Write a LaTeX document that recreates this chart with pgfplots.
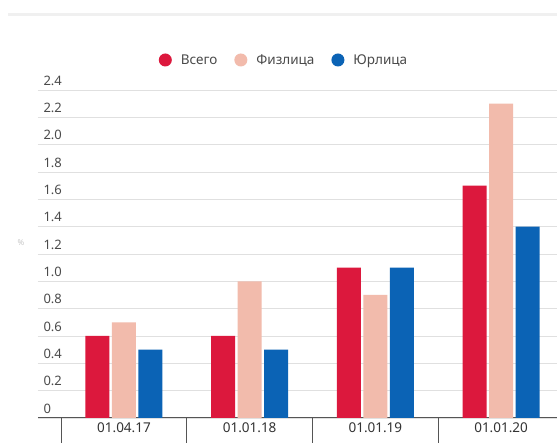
\documentclass[border=0pt]{standalone}
\usepackage{fontspec}
\setmainfont{Noto Sans}
\usepackage{pgfplots}
\pgfplotsset{compat=1.18}
\definecolor{cRed}{HTML}{DC183D}
\definecolor{cPink}{HTML}{F2BBAC}
\definecolor{cBlue}{HTML}{0B63B5}
\definecolor{cGrid}{HTML}{E0E0E0}
\definecolor{cText}{HTML}{4A4A4A}
\definecolor{cAxis}{HTML}{555555}
\begin{document}
\begin{tikzpicture}
\useasboundingbox (0,0) rectangle (557pt,443pt);
\fill[white] (0,0) rectangle (557pt,443pt);
\fill[gray!12] (8pt,427pt) rectangle (557pt,429.5pt);
\begin{axis}[
  at={(38pt,25pt)}, anchor=south west,
  scale only axis, width=519pt, height=328pt,
  xmin=-0.684, xmax=3.445, ymin=0, ymax=2.4,
  ybar, bar width=24pt,
  axis x line*=bottom, axis y line*=left,
  x axis line style={-, draw=cAxis, line width=1pt},
  y axis line style={draw=none},
  xtick={0,1,2,3},
  xticklabels={01.04.17,01.01.18,01.01.19,01.01.20},
  major tick length=0pt,
  extra x ticks={-0.5,0.5,1.5,2.5,3.5},
  extra x tick labels={},
  extra x tick style={major tick length=25pt, tick align=outside, tick style={draw=cAxis, line width=0.8pt}},
  xticklabel style={font=\fontsize{13.5}{15}\selectfont, text=black!80, yshift=-1pt},
  ytick={0,0.2,0.4,0.6,0.8,1.0,1.2,1.4,1.6,1.8,2.0,2.2,2.4},
  yticklabels={0,0.2,0.4,0.6,0.8,1.0,1.2,1.4,1.6,1.8,2.0,2.2,2.4},
  ymajorgrids, grid style={cGrid, line width=0.8pt},
  yticklabel style={font=\fontsize{13}{15}\selectfont, text=cText, anchor=south west, xshift=2pt, yshift=1pt},
  ytick style={draw=none},
  /pgf/number format/assume math mode=true,
  clip=true,
  legend columns=3,
  legend style={at={(axis description cs:0.474,1.0915)}, anchor=center, draw=none, fill=none,
    font=\fontsize{13.5}{15}\selectfont, text=cText,
    /tikz/every odd column/.append style={column sep=7pt},
    /tikz/every even column/.append style={column sep=15pt}},
  legend image code/.code={\fill[#1, draw=none] (0pt,0pt) circle (6.5pt);},
]
\addplot[fill=cRed, draw=none, bar shift=-26.5pt] coordinates {(0,0.6) (1,0.6) (2,1.1) (3,1.7)};
\addplot[fill=cPink, draw=none, bar shift=0pt] coordinates {(0,0.7) (1,1.0) (2,0.9) (3,2.3)};
\addplot[fill=cBlue, draw=none, bar shift=26.5pt] coordinates {(0,0.5) (1,0.5) (2,1.1) (3,1.4)};
\legend{Всего,Физлица,Юрлица}
\end{axis}
\node[text=gray!45, font=\fontsize{8}{9}\selectfont] at (21pt,200pt) {\%};
\end{tikzpicture}
\end{document}
